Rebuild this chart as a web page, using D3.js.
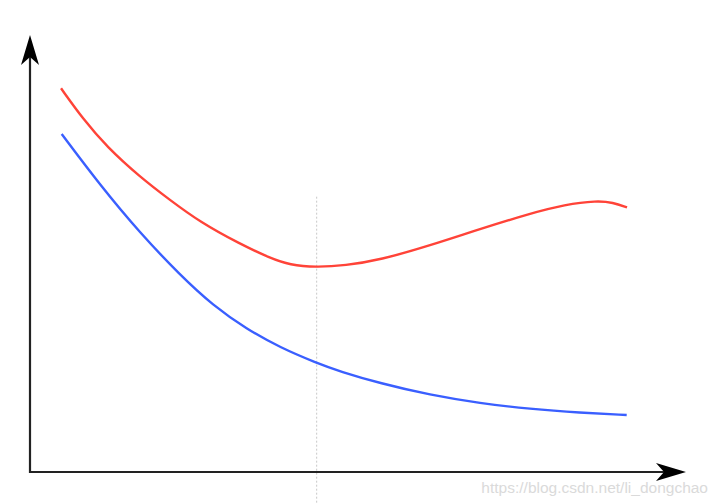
<!DOCTYPE html>
<html><head><meta charset="utf-8">
<script src="https://cdn.jsdelivr.net/npm/d3@7"></script>
<style>html,body{margin:0;padding:0;background:#fff;}</style>
</head><body>
<script>
const redX = [4.73, 8.08, 11.74, 16.77, 21.34, 25.91, 32.01, 36.59, 39.63, 43.60, 48.02, 53.35, 60.98, 68.60, 76.22, 81.55, 86.43, 88.87, 91.01];
const redY = [87.8, 80.78, 74.37, 67.51, 62.24, 57.21, 52.17, 48.97, 47.37, 46.84, 47.25, 48.51, 51.83, 55.61, 59.15, 61.21, 62.08, 61.67, 60.53];
const blueX = [4.83, 10.67, 16.77, 22.87, 27.90, 33.03, 38.11, 43.70, 47.26, 53.35, 60.98, 68.60, 76.22, 83.84, 90.96];
const blueY = [77.35, 65.68, 54.69, 45.08, 38.10, 32.72, 28.49, 24.94, 23.00, 20.30, 17.62, 15.72, 14.42, 13.57, 13.04];
const markerX = 43.7;
const watermark = "https://blog.csdn.net/li_dongchao";

const W = 720, H = 504;
const svg = d3.select("body").append("svg").attr("width", W).attr("height", H);
const x = d3.scaleLinear().domain([0, 100]).range([30, 686]);
const y = d3.scaleLinear().domain([0, 100]).range([472, 35]);

// dashed vertical
svg.append("line")
  .attr("x1", x(markerX)).attr("x2", x(markerX))
  .attr("y1", y(63)).attr("y2", H)
  .attr("stroke", "#c8c8c8").attr("stroke-width", 1).attr("stroke-dasharray", "2,2");

const line = d3.line().x(d => x(d[0])).y(d => y(d[1])).curve(d3.curveBasis);
svg.append("path").datum(redX.map((v, i) => [v, redY[i]]))
  .attr("d", line).attr("fill", "none").attr("stroke", "#ff4338").attr("stroke-width", 2.4);
svg.append("path").datum(blueX.map((v, i) => [v, blueY[i]]))
  .attr("d", line).attr("fill", "none").attr("stroke", "#3a5fff").attr("stroke-width", 2.4);

// axes
const ox = x(0), oy = y(0);
svg.append("line").attr("x1", ox).attr("y1", oy).attr("x2", x(100) - 20).attr("y2", oy)
  .attr("stroke", "#222").attr("stroke-width", 2.2);
svg.append("line").attr("x1", ox).attr("y1", oy + 1.1).attr("x2", ox).attr("y2", y(100) + 20)
  .attr("stroke", "#222").attr("stroke-width", 2.2);

function arrow(tx, ty, ang) {
  const L = 30, hw = 9, notch = 22;
  const pts = [[0, 0], [-L, -hw], [-notch, 0], [-L, hw]];
  const c = Math.cos(ang), s = Math.sin(ang);
  const p = pts.map(([a, b]) => [tx + a * c - b * s, ty + a * s + b * c]);
  svg.append("path").attr("d", "M" + p.map(q => q.join(",")).join("L") + "Z").attr("fill", "#000");
}
arrow(x(100), oy, 0);
arrow(ox, y(100), -Math.PI / 2);

svg.append("text").attr("x", 708).attr("y", 493).attr("text-anchor", "end")
  .attr("font-family", "Liberation Sans, Arial, sans-serif").attr("font-size", 15.5)
  .attr("fill", "#dadada").text(watermark);
</script>
</body></html>
